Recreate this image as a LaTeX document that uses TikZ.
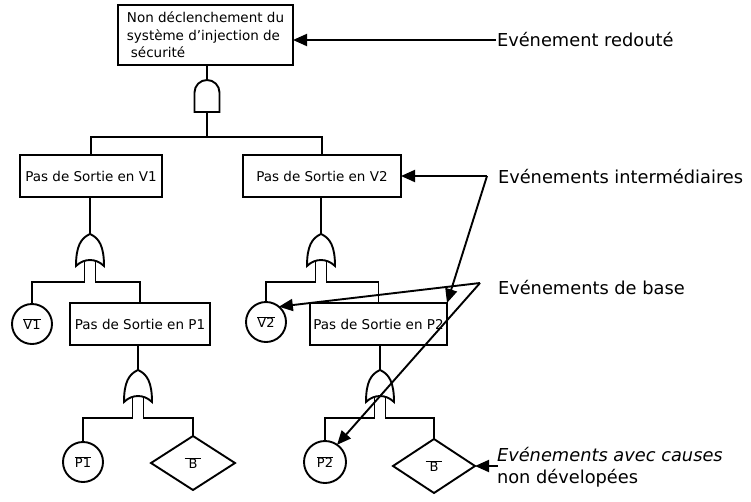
\documentclass[tikz,border=0pt]{standalone}
\usepackage{fontspec}
\setmainfont{DejaVu Sans}
\usetikzlibrary{arrows.meta,shapes.geometric}
\begin{document}
\begin{tikzpicture}[x=1pt,y=-1pt,
  every node/.style={inner sep=0pt, outer sep=0pt},
  line/.style={line width=1.9pt},
  evbox/.style={draw, line width=1.9pt, minimum height=42pt, align=center, font=\fontsize{13.5}{17.5}\selectfont},
  basic/.style={draw, circle, line width=1.9pt, minimum size=40pt, font=\fontsize{13}{15}\selectfont},
  undev/.style={draw, diamond, line width=1.9pt, minimum width=84pt, minimum height=54pt, font=\fontsize{13}{15}\selectfont},
  lbl/.style={anchor=west, inner xsep=1pt, font=\fontsize{17.8}{22}\selectfont},
  ptr/.style={line width=1.9pt, -{Triangle[length=14pt,width=12pt]}},
  andgate/.pic={
    \draw[line width=1.9pt] (-12.5,32) -- (-12.5,12.5) arc[start angle=180,end angle=360,radius=12.5] -- (12.5,32) -- cycle;
    \coordinate (-in) at (0,0);
    \coordinate (-out) at (0,32);
  },
  orgate/.pic={
    \draw[line width=1.9pt] (0,0) .. controls (9,4) and (14,12) .. (14,32)
      .. controls (6,24) and (-6,24) .. (-14,32)
      .. controls (-14,12) and (-9,4) .. (0,0) -- cycle;
    \coordinate (-in) at (0,0);
    \coordinate (-legl) at (-5.5,27);
    \coordinate (-legr) at (5.5,27);
    \coordinate (-bar) at (0,48);
  },
]
\useasboundingbox (0,0) rectangle (751,501);

% events
\node[evbox, minimum width=175pt, minimum height=60pt, align=left] (top) at (205.5,35)
  {Non déclenchement du\\système d'injection de\\\hspace{4pt}sécurité};
\node[evbox, minimum width=142pt] (v1) at (91,176) {Pas de Sortie en V1};
\node[evbox, minimum width=158pt] (v2) at (322,176) {Pas de Sortie en V2};
\node[evbox, minimum width=140pt] (p1) at (140,324) {Pas de Sortie en P1};
\node[evbox, minimum width=137pt] (p2) at (378.5,324) {Pas de Sortie en P2};

\node[basic] (v1c) at (32,324) {\(\overline{\mbox{V1}}\)};
\node[basic] (v2c) at (266,322) {\(\overline{\mbox{V2}}\)};
\node[basic] (p1c) at (83,462) {\(\overline{\mbox{P1}}\)};
\node[basic, minimum size=42pt] (p2c) at (325,462) {\(\overline{\mbox{P2}}\)};
\node[undev] (d1) at (193,463) {\(\overline{\mbox{\hspace{4pt}B\hspace{4pt}}}\)};
\node[undev, minimum width=82pt] (d2) at (434,466) {\(\overline{\mbox{\hspace{4pt}B\hspace{4pt}}}\)};

% gates
\pic (g0) at (207,80) {andgate};
\pic (g1) at (90,234) {orgate};
\pic (g2) at (321,234) {orgate};
\pic (g3) at (138,370) {orgate};
\pic (g4) at (380,370) {orgate};
\coordinate (bar0) at (207,137);

% tree connectors
\draw[line] (top.south -| g0-in) -- (g0-in);
\draw[line] (g0-out) -- (bar0);
\draw[line] (v1.north) |- (bar0) -| (v2.north);

\draw[line] (v1.south -| g1-in) -- (g1-in);
\draw[line] (g1-legl) -- (g1-legl |- g1-bar) -| (v1c.north);
\draw[line] (g1-legr) -- (g1-legr |- g1-bar) -| (p1.north);

\draw[line] (v2.south -| g2-in) -- (g2-in);
\draw[line] (g2-legl) -- (g2-legl |- g2-bar) -| (v2c.north);
\draw[line] (g2-legr) -- (g2-legr |- g2-bar) -| (p2.north);

\draw[line] (p1.south -| g3-in) -- (g3-in);
\draw[line] (g3-legl) -- (g3-legl |- g3-bar) -| (p1c.north);
\draw[line] (g3-legr) -- (g3-legr |- g3-bar) -| (d1.north);

\draw[line] (p2.south -| g4-in) -- (g4-in);
\draw[line] (g4-legl) -- (g4-legl |- g4-bar) -| (p2c.north);
\draw[line] (g4-legr) -- (g4-legr |- g4-bar) -| (d2.north);

% labels
\node[lbl] (L1) at (496,40) {Evénement redouté};
\node[lbl] (L2) at (497,177) {Evénements intermédiaires};
\node[lbl] (L3) at (497,287) {Evénements de base};
\node[lbl, anchor=north west, align=left] (L4) at (496,447) {{\itshape Evénements avec causes}\\non dévelopées};
\coordinate (a2) at (487,176);
\coordinate (a3) at (480,283);
\coordinate (a4) at (498,466);

\draw[ptr] (L1.west) -- (top.east |- L1.west);
\draw[ptr] (a2) -- (v2.east |- a2);
\draw[ptr] (a2) -- (p2.north east);
\draw[ptr] (a3) -- (v2c.50);
\draw[ptr] (a3) -- (p2c.55);
\draw[ptr] (a4) -- (d2.east);
\end{tikzpicture}
\end{document}
